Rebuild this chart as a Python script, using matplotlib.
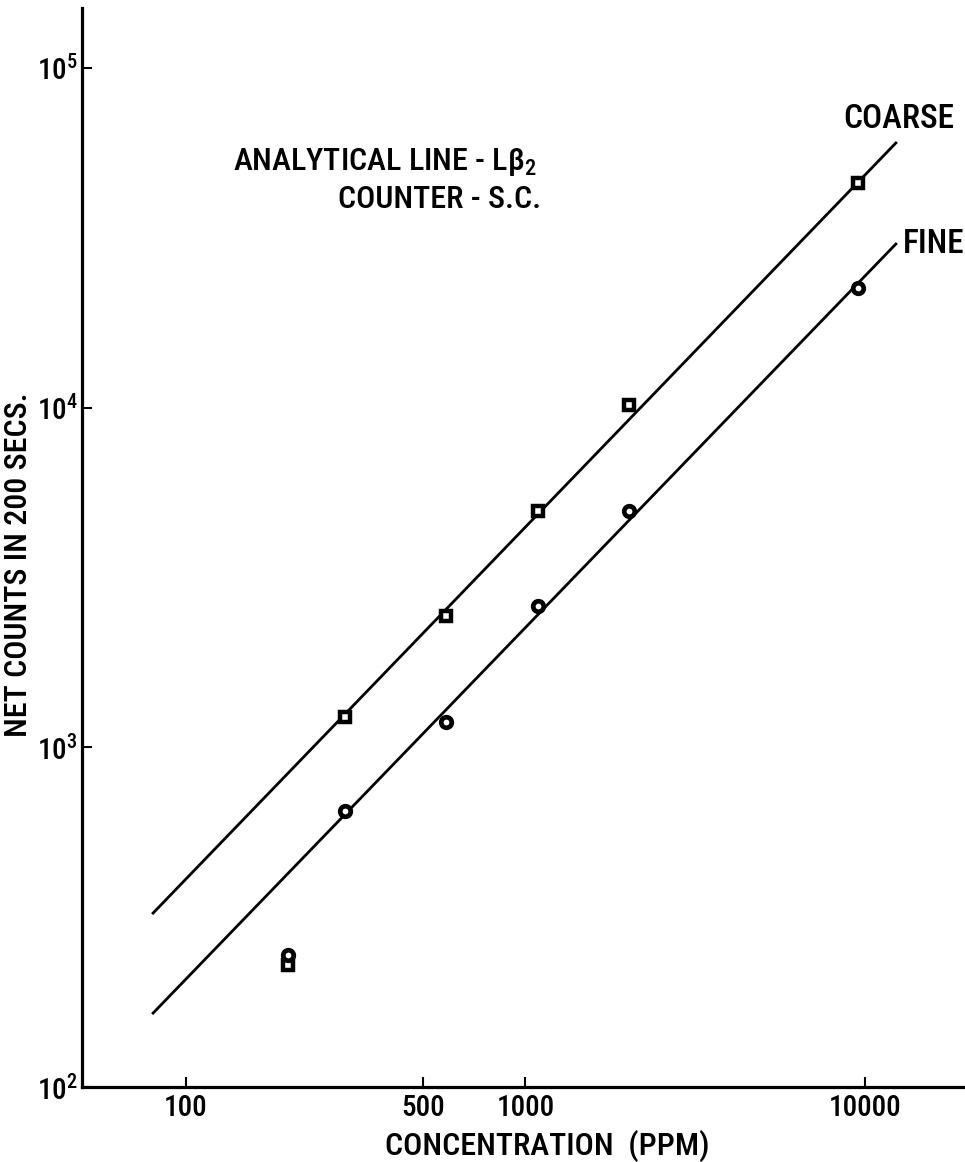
import matplotlib
matplotlib.use("Agg")
import matplotlib.pyplot as plt
from matplotlib import font_manager
from matplotlib.ticker import NullLocator, FixedLocator, FixedFormatter

# concentration (ppm) of the standards
conc = [200, 295, 585, 1090, 2020, 9530]
# net counts in 200 s, coarse and fine particle size
coarse_counts = [228, 1230, 2440, 4950, 10200, 45900]
fine_counts = [244, 648, 1190, 2600, 4950, 22500]

# end points of the drawn calibration lines
line_conc = [80, 12330]
coarse_line = [325, 60100]
fine_line = [165, 30300]

x_ticks = [100, 500, 1000, 10000]
x_tick_labels = ["100", "500", "1000", "10000"]
y_ticks = [1e2, 1e3, 1e4, 1e5]
y_tick_labels = [r"$\mathregular{10^2}$", r"$\mathregular{10^3}$",
                 r"$\mathregular{10^4}$", r"$\mathregular{10^5}$"]


def pick_font(names):
    for name in names:
        try:
            font_manager.findfont(font_manager.FontProperties(family=name),
                                  fallback_to_default=False)
            return name
        except ValueError:
            continue
    return "DejaVu Sans"


font = pick_font(["Liberation Sans Narrow", "Roboto Condensed", "Liberation Sans"])
plt.rcParams["font.family"] = [font, "DejaVu Sans"]
plt.rcParams["font.weight"] = "medium"
plt.rcParams["axes.labelweight"] = "medium"

W, H = 965, 1162
fig = plt.figure(figsize=(W / 100, H / 100), dpi=100)
ax = fig.add_axes([82 / W, 75 / H, (964 - 82) / W, (1154 - 75) / H])

ax.set_xscale("log")
ax.set_yscale("log")
ax.set_xlim(49.4, 19570)
ax.set_ylim(100, 1.5e5)

ax.plot(line_conc, coarse_line, color="black", lw=2)
ax.plot(line_conc, fine_line, color="black", lw=2)

ax.plot(conc, coarse_counts, ls="none", marker="s", ms=7.2, mew=3.2,
        mec="black", mfc="white", zorder=3)
ax.plot(conc, fine_counts, ls="none", marker="o", ms=7.6, mew=3.4,
        mec="black", mfc="white", zorder=4)

for side in ["top", "right"]:
    ax.spines[side].set_visible(False)
for side in ["left", "bottom"]:
    ax.spines[side].set_linewidth(2.3)

ax.xaxis.set_major_locator(FixedLocator(x_ticks))
ax.xaxis.set_major_formatter(FixedFormatter(x_tick_labels))
ax.yaxis.set_major_locator(FixedLocator(y_ticks))
ax.yaxis.set_major_formatter(FixedFormatter(y_tick_labels))
ax.xaxis.set_minor_locator(NullLocator())
ax.yaxis.set_minor_locator(NullLocator())
ax.tick_params(direction="in", length=7, width=1.5, labelsize=21)
ax.tick_params(axis="x", pad=5)
ax.tick_params(axis="y", pad=3)
for lbl in ax.get_xticklabels() + ax.get_yticklabels():
    lbl.set_fontweight("medium")

ax.set_xlabel("CONCENTRATION  (PPM)", fontsize=23)
ax.xaxis.set_label_coords(0.528, -0.040)
ax.set_ylabel("NET COUNTS IN 200 SECS.", fontsize=23)
ax.yaxis.set_label_coords(-0.056, 0.484)

# line labels at the upper ends of the calibration lines
ax.annotate("COARSE", (line_conc[1], coarse_line[1]), xytext=(2, 6),
            textcoords="offset points", ha="center", va="bottom", fontsize=24)
ax.annotate("FINE", (line_conc[1], fine_line[1]), xytext=(5, 0),
            textcoords="offset points", ha="left", va="center", fontsize=24)

fig.text(233 / W, 1 - 162 / H, r"ANALYTICAL LINE - $\mathregular{L\beta_2}$",
         ha="left", va="center", fontsize=23)
fig.text(338 / W, 1 - 199 / H, "COUNTER - S.C.", ha="left", va="center", fontsize=23)

fig.savefig("out.png", dpi=100)
